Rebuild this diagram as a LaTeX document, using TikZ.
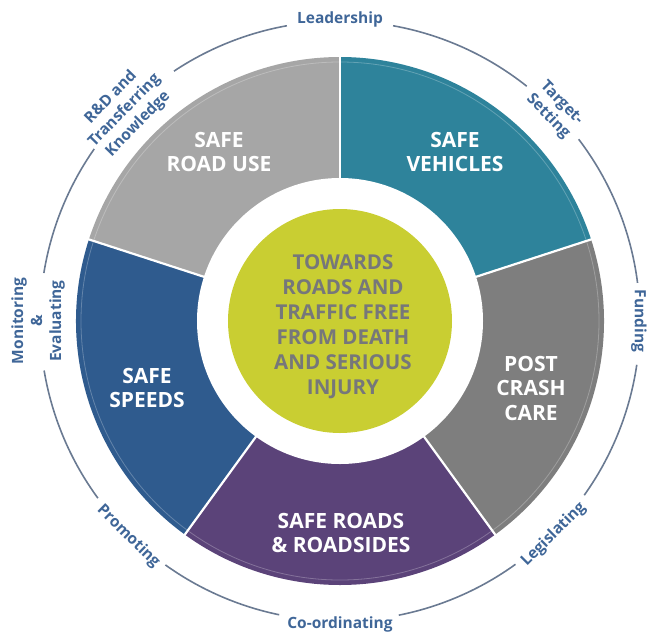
\documentclass[tikz,border=0pt]{standalone}
\usepackage{fontspec}
\setmainfont{Open Sans}
\definecolor{roaduse}{HTML}{A6A6A6}
\definecolor{vehicles}{HTML}{2E839B}
\definecolor{postcrash}{HTML}{7E7E7E}
\definecolor{roads}{HTML}{5B4379}
\definecolor{speeds}{HTML}{2F5B8E}
\definecolor{core}{HTML}{C9CE32}
\definecolor{coretext}{HTML}{76777A}
\definecolor{ringcol}{HTML}{6A7A92}
\definecolor{ringtext}{HTML}{3F6698}
\begin{document}
\begin{tikzpicture}[x=1pt,y=1pt,
  seclabel/.style={text=white, font=\bfseries\fontsize{21}{24.5}\selectfont, align=center, inner sep=0pt},
  corelabel/.style={text=coretext, font=\bfseries\fontsize{20.5}{25}\selectfont, align=center, inner sep=0pt},
  ringlabel/.style={text=ringtext, font=\bfseries\fontsize{15.5}{19}\selectfont, align=center, inner sep=0pt},
  ringline/.style={draw=ringcol, line width=1.6pt},
  seppline/.style={draw=white, line width=2.2pt}]
\useasboundingbox (-340,-312) rectangle (307,321);
% sectors
\fill[roaduse]   (0,0) -- (90:264)   arc[start angle=90,   end angle=162,  radius=264] -- cycle;
\fill[vehicles]  (0,0) -- (18:264)   arc[start angle=18,   end angle=90,   radius=264] -- cycle;
\fill[postcrash] (0,0) -- (-54:264)  arc[start angle=-54,  end angle=18,   radius=264] -- cycle;
\fill[roads]     (0,0) -- (-126:264) arc[start angle=-126, end angle=-54,  radius=264] -- cycle;
\fill[speeds]    (0,0) -- (162:264)  arc[start angle=162,  end angle=234,  radius=264] -- cycle;
\draw[white, opacity=0.25, line width=0.8pt] (0,0) circle[radius=259];
\fill[white] (0,0) circle[radius=143];
\foreach \a in {90,18,-54,-126,162}
  \draw[seppline] (\a:140) -- (\a:266);
\fill[core] (0,0) circle[radius=112];
% labels
\node[seclabel] (roaduselbl) at (-121,169) {SAFE\\ROAD USE};
\node[seclabel] (vehicleslbl) at (115,169) {SAFE\\VEHICLES};
\node[seclabel] (speedslbl) at (-193,-67) {SAFE\\SPEEDS};
\node[seclabel] (postcrashlbl) at (191,-67) {POST\\CRASH\\CARE};
\node[seclabel] (roadslbl) at (1,-212) {SAFE ROADS\\\& ROADSIDES};
\node[corelabel] (corelbl) at (3,-6) {TOWARDS\\ROADS AND\\TRAFFIC FREE\\FROM DEATH\\AND SERIOUS\\INJURY};
% outer ring
\foreach \a/\b in {79.8/51.5, 37.3/7.3, -8.4/-35.5, -54.2/-78.7, -101.7/-125.6, -143.8/-170.5, 170.8/145, 123.6/100.2}
  \draw[ringline] (\a:300) arc[start angle=\a, end angle=\b, radius=300];
\node[ringlabel] (lead) at (90:302) {Leadership};
\node[ringlabel, rotate=-45.5] (target) at (44.5:301) {Target-\\Setting};
\node[ringlabel, rotate=-90] (fund) at (0:299) {Funding};
\node[ringlabel, rotate=45] (legis) at (-45:302) {Legislating};
\node[ringlabel] (coord) at (-90:303) {Co-ordinating};
\node[ringlabel, rotate=-44.5] (promo) at (-134.5:302) {Promoting};
\node[ringlabel, rotate=90] (moni) at (180:302) {Monitoring\\\&\\Evaluating};
\node[ringlabel, rotate=45.7] (rd) at (135.7:301) {R\&D and\\Transferring\\Knowledge};
\end{tikzpicture}
\end{document}
